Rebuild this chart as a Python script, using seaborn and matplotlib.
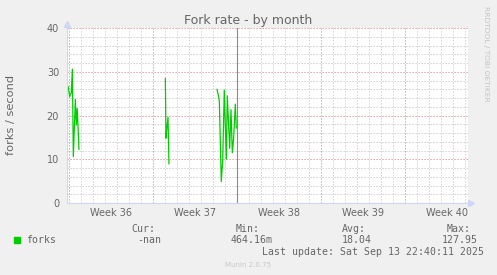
import matplotlib
matplotlib.use("Agg")
import matplotlib.pyplot as plt
import seaborn as sns
import pandas as pd
from matplotlib.ticker import MultipleLocator
from matplotlib.patches import Rectangle

# ---- data (days measured from the first weekly grid line) ----
fork_days = [-0.08, 0.06, 0.13, 0.19, 0.28, 0.36, 0.53, 0.61, 0.69, 0.83,
             8.03, 8.08, 8.14, 8.25, 8.33,
             12.33, 12.44, 12.53, 12.69, 12.81, 12.94, 13.11, 13.19, 13.39,
             13.50, 13.61, 13.72, 13.86, 13.94]
fork_rate = [26.7, 24.3, 25.0, 25.1, 30.6, 10.6, 23.7, 17.8, 21.6, 12.2,
             28.5, 14.8, 16.7, 19.6, 8.9,
             26.0, 24.7, 23.2, 4.9, 9.8, 25.8, 10.0, 24.5, 12.5,
             21.3, 11.5, 14.8, 22.6, 17.1]
fork_segment = [1] * 10 + [2] * 5 + [3] * 14

week_labels = ["Week 36", "Week 37", "Week 38", "Week 39", "Week 40"]
week_centers = [3.5, 10.5, 17.5, 24.5, 31.5]
y_ticks = [0, 10, 20, 30, 40]
now_marker_day = 14.0

legend_headers = ["Cur:", "Min:", "Avg:", "Max:"]
legend_values = ["-nan", "464.16m", "18.04", "127.95"]
last_update = "Last update: Sat Sep 13 22:40:11 2025"

df = pd.DataFrame({"day": fork_days, "rate": fork_rate, "segment": fork_segment})

sns.set_theme(style="white")
plt.rcParams["font.family"] = ["DejaVu Sans"]

W, H = 497, 275
fig = plt.figure(figsize=(W / 100, H / 100), dpi=100, facecolor="#F0F0F0")
ax = fig.add_axes([67 / W, 1 - 203 / H, 401 / W, 175 / H])
ax.set_facecolor("white")

AXIS = "#CFD6F8"
FONT = "#666666"

sns.lineplot(data=df, x="day", y="rate", units="segment", estimator=None,
             color="#00CC00", linewidth=0.9, ax=ax, legend=False)
ax.axvline(now_marker_day, color="#8a8a8a", linewidth=0.8, zorder=3)

ax.set_xlim(-2 / 12, 33.25)
ax.set_ylim(0, 40)
ax.xaxis.set_major_locator(MultipleLocator(7))
ax.xaxis.set_minor_locator(MultipleLocator(1))
ax.set_yticks(y_ticks)
ax.set_yticklabels([str(v) for v in y_ticks])
ax.yaxis.set_minor_locator(MultipleLocator(2))
ax.set_xlabel("")
ax.set_ylabel("")

ax.grid(which="minor", color="#C8C8C8", linestyle=(0, (1.2, 1.8)), linewidth=0.72)
ax.grid(which="major", color="#DC9090", linestyle=(0, (1.2, 1.8)), linewidth=0.72)
ax.set_axisbelow(True)

ax.tick_params(axis="x", which="both", labelbottom=False)
ax.tick_params(axis="both", which="major", direction="out", length=2.2,
               width=0.72, color="#E6A0A0")
ax.tick_params(axis="both", which="minor", direction="out", length=1.5,
               width=0.72, color="#CCCCCC")
ax.tick_params(axis="y", which="major", labelsize=7, labelcolor=FONT, pad=3.5)

for s in ax.spines.values():
    s.set_visible(False)

# axes lines with arrows
ax.plot([0, 0], [0, 1.02], transform=ax.transAxes, clip_on=False,
        color=AXIS, linewidth=0.8, zorder=4)
ax.plot([0, 1.008], [0, 0], transform=ax.transAxes, clip_on=False,
        color=AXIS, linewidth=0.8, zorder=4)
ax.plot([0.0008], [1.023], marker="^", markersize=4, color=AXIS,
        transform=ax.transAxes, clip_on=False, zorder=5)
ax.plot([1.0087], [0.0], marker=">", markersize=4, color=AXIS,
        transform=ax.transAxes, clip_on=False, zorder=5)

# week labels
for c, lab in zip(week_centers, week_labels):
    ax.text(c, -(216 - 203) / 175, lab, transform=ax.get_xaxis_transform(),
            ha="center", va="baseline", fontsize=7, color=FONT)

def ftext(x, y, s, **kw):
    fig.text(x / W, 1 - y / H, s, **kw)

ftext(248, 24, "Fork rate - by month", ha="center", va="baseline",
      fontsize=9, color=FONT)
ftext(11, 115, "forks / second", ha="center", va="center", rotation=90,
      fontsize=8.2, color=FONT)
ftext(486, 54, "RRDTOOL / TOBI OETIKER", ha="center", va="center",
      rotation=270, fontsize=5.4, color="#C4C4C4")

mono = dict(family="DejaVu Sans Mono", fontsize=7.1, color=FONT, va="baseline", ha="left")
fig.patches.append(Rectangle((14 / W, 1 - 242.5 / H), 6 / W, 6 / H,
                             transform=fig.transFigure, color="#00CC00"))
ftext(26.5, 243, "forks", **mono)
for x, s in zip([131.5, 236, 341.5, 447], legend_headers):
    ftext(x, 231.5, s, **mono)
for x, s in zip([137.5, 230.5, 342, 441.5], legend_values):
    ftext(x, 243, s, **mono)
ftext(261.5, 255, last_update, **mono)
ftext(248, 266.7, "Munin 2.0.75", ha="center", va="baseline",
      fontsize=5, color="#C8C8C8")

fig.savefig("out.png", dpi=100, facecolor=fig.get_facecolor())
